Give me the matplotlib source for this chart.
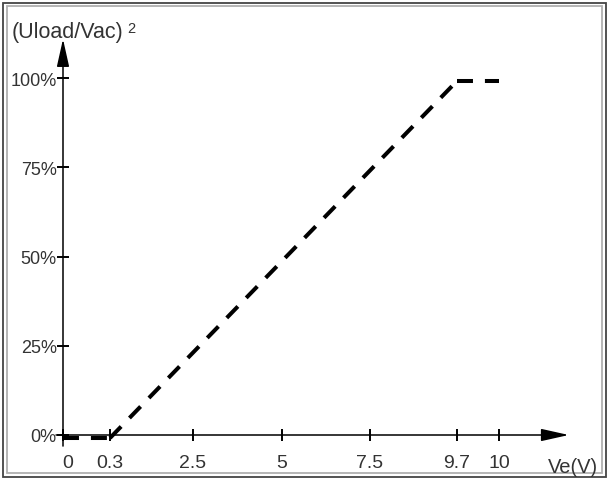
import numpy as np
import matplotlib
matplotlib.use("Agg")
import matplotlib.pyplot as plt
from matplotlib.patches import Rectangle
import matplotlib.transforms as mtransforms

plt.rcParams['font.family'] = ['Liberation Sans', 'DejaVu Sans']

# ---- data ----
ve_values = [0, 0.3, 9.7, 10]          # Ve (V)
ratio_values = [0, 0, 100, 100]        # (Uload/Vac)^2 in %
x_ticks = [0, 0.3, 2.5, 5, 7.5, 9.7, 10]
x_tick_labels = ["0", "0.3", "2.5", "5", "7.5", "9.7", "10"]
y_ticks = [0, 25, 50, 75, 100]
y_tick_labels = ["0%", "25%", "50%", "75%", "100%"]

# schematic (non-linear) spacing of the x axis, in relative layout units
x_layout = [0, 47, 130, 219, 307, 394, 436]


def _interp(x, xp, fp):
    x = np.asarray(x, dtype=float)
    xp = np.asarray(xp, dtype=float)
    fp = np.asarray(fp, dtype=float)
    y = np.interp(x, xp, fp)
    lo = x < xp[0]
    hi = x > xp[-1]
    y = np.where(lo, fp[0] + (x - xp[0]) * (fp[1] - fp[0]) / (xp[1] - xp[0]), y)
    y = np.where(hi, fp[-1] + (x - xp[-1]) * (fp[-1] - fp[-2]) / (xp[-1] - xp[-2]), y)
    return y


def fwd(x):
    return _interp(x, x_ticks, x_layout)


def inv(p):
    return _interp(p, x_layout, x_ticks)


W, H = 610, 481
fig = plt.figure(figsize=(W / 100, H / 100), dpi=100)

# frame around the figure
fig.patches.append(Rectangle((3 / W, 3 / H), 603 / W, 474 / H, transform=fig.transFigure,
                             fill=False, edgecolor='#444444', lw=1.3))
fig.patches.append(Rectangle((7 / W, 7 / H), 595 / W, 467 / H, transform=fig.transFigure,
                             fill=False, edgecolor='#b0b0b0', lw=1.3))

ax = fig.add_axes([63 / W, (H - 436) / H, 436 / W, 357 / H])
ax.set_xscale('function', functions=(fwd, inv))
ax.set_xlim(0, 10)
ax.set_ylim(0, 100)
for s in ax.spines.values():
    s.set_visible(False)
ax.patch.set_alpha(0)

# dashed characteristic, each segment dashed on its own as in the original drawing
off = mtransforms.ScaledTranslation(0, -3 / 100, fig.dpi_scale_trans)
for i in range(len(ve_values) - 1):
    ax.plot(ve_values[i:i + 2], ratio_values[i:i + 2], color='black', lw=2.9,
            linestyle=(0, (11.5 / 2.9, 8.6 / 2.9)), dash_capstyle='butt',
            transform=ax.transData + off, clip_on=False)

# axes with arrows
arrow = dict(arrowstyle='-|>,head_length=1.7,head_width=0.38', lw=1.1, color='black',
             shrinkA=0, shrinkB=0, mutation_scale=10)
ax.annotate('', xy=(1.16, 0), xytext=(-0.016, 0), xycoords='axes fraction',
            textcoords='axes fraction', arrowprops=arrow, annotation_clip=False)
ax.annotate('', xy=(0, 1.109), xytext=(0, -0.031), xycoords='axes fraction',
            textcoords='axes fraction', arrowprops=arrow, annotation_clip=False)

ax.set_xticks(x_ticks)
ax.set_xticklabels(x_tick_labels)
ax.set_yticks(y_ticks)
ax.set_yticklabels(y_tick_labels)
ax.minorticks_off()
ax.tick_params(axis='both', direction='inout', length=8, width=1.4, color='black',
               labelcolor='#333333')
ax.tick_params(axis='x', pad=10, labelsize=14)
ax.tick_params(axis='y', pad=0.5, labelsize=13)

# the "0" label sits a little to the right of the origin in the original
lab0 = ax.get_xticklabels()[0]
lab0.set_transform(lab0.get_transform() +
                   mtransforms.ScaledTranslation(5 / 100, 0, fig.dpi_scale_trans))

# axis titles
fig.text(12 / W, 1 - 38 / H, "(Uload/Vac)", fontsize=15.5, color='#333333',
         ha='left', va='baseline')
fig.text(127 / W, 1 - 33 / H, "2", fontsize=10.5, color='#333333',
         ha='left', va='baseline')
fig.text(548 / W, 1 - 473 / H, "Ve(V)", fontsize=14.5, color='#333333',
         ha='left', va='baseline')

fig.savefig("out.png", dpi=100)
